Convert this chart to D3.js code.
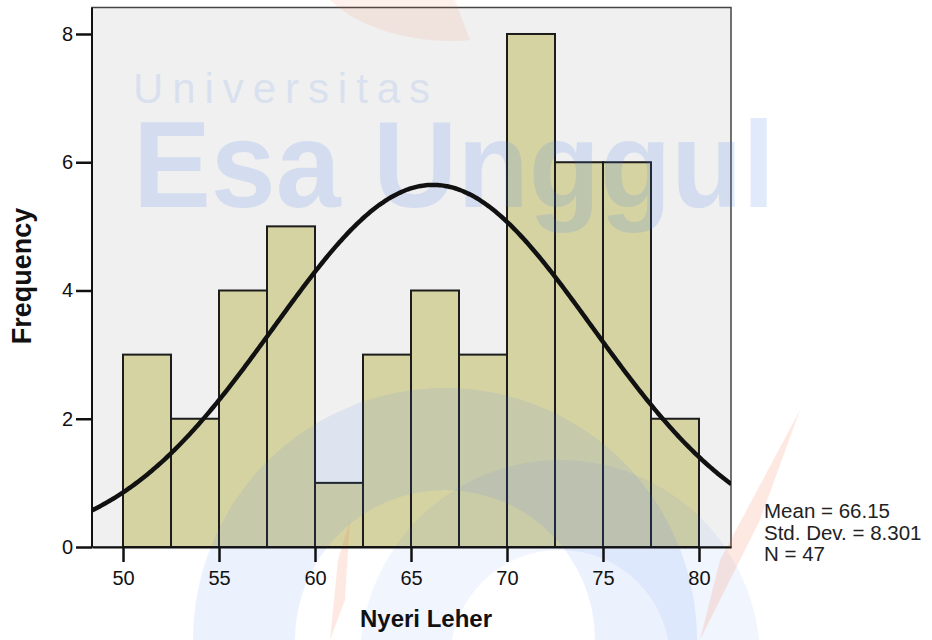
<!DOCTYPE html>
<html>
<head>
<meta charset="utf-8">
<script src="https://cdn.jsdelivr.net/npm/d3@7"></script>
<style>
  body { margin: 0; background: #fff; }
  svg { display: block; font-family: 'Liberation Sans', Arial, sans-serif; }
</style>
</head>
<body>
<div id="chart"></div>
<script>
// histogram data (Nyeri Leher)
var binStarts = [50, 52.5, 55, 57.5, 60, 62.5, 65, 67.5, 70, 72.5, 75, 77.5];
var binCounts = [3, 2, 4, 5, 1, 3, 4, 3, 8, 6, 6, 2];
var binWidth = 2.5;
var xTicks = [50, 55, 60, 65, 70, 75, 80];
var yTicks = [0, 2, 4, 6, 8];
var statLabels = ['Mean = 66.15', 'Std. Dev. = 8.301', 'N = 47'];
var statMean = 66.15;
var statSd = 8.301;
var statN = 47;

var width = 932,
    height = 640;

var plot = {
  left: 92,
  right: 731,
  top: 7.5,
  bottom: 547
};

var svg = d3.select('#chart')
    .append('svg')
        .attr('width', width)
        .attr('height', height);

var x = d3.scaleLinear()
    .domain([48.385, 81.667])
    .range([plot.left, plot.right]);
var y = d3.scaleLinear()
    .domain([0, 8.413])
    .range([plot.bottom, plot.top]);

// plot background
svg.append('rect')
    .attr('x', plot.left)
    .attr('y', plot.top)
    .attr('width', plot.right - plot.left)
    .attr('height', plot.bottom - plot.top)
    .attr('fill', '#f0f0f0')
    .attr('stroke', '#444')
    .attr('stroke-width', 1.5);

svg.append('clipPath')
    .attr('id', 'plotClip')
  .append('rect')
    .attr('x', plot.left)
    .attr('y', plot.top)
    .attr('width', plot.right - plot.left)
    .attr('height', plot.bottom - plot.top);

// bars
svg.append('g')
    .attr('class', 'bars')
  .selectAll('rect')
  .data(binStarts)
  .enter()
  .append('rect')
    .attr('x', function(d) { return x(d); })
    .attr('y', function(d, i) { return y(binCounts[i]); })
    .attr('width', function(d) { return x(d + binWidth) - x(d); })
    .attr('height', function(d, i) { return y(0) - y(binCounts[i]); })
    .attr('fill', '#d6d3a3')
    .attr('stroke', '#1c1c1c')
    .attr('stroke-width', 2);

// faint watermark over the bars
var wm = svg.append('g')
    .attr('class', 'watermark')
    .style('pointer-events', 'none');

var ring = d3.arc()
    .startAngle(-Math.PI / 2)
    .endAngle(Math.PI / 2);

wm.append('path')
    .attr('transform', 'translate(445,640)')
    .attr('d', ring({ innerRadius: 150, outerRadius: 252 }))
    .attr('fill', 'rgb(60,120,235)')
    .attr('opacity', 0.1);
wm.append('path')
    .attr('transform', 'translate(560,660)')
    .attr('d', ring({ innerRadius: 110, outerRadius: 200 }))
    .attr('fill', 'rgb(60,120,235)')
    .attr('opacity', 0.07);
wm.append('path')
    .attr('d', 'M700,640 L720,560 L800,410 L760,520 Z')
    .attr('fill', 'rgb(250,110,60)')
    .attr('opacity', 0.15);
wm.append('path')
    .attr('d', 'M330,640 L338,560 L350,520 L345,600 Z')
    .attr('fill', 'rgb(250,110,60)')
    .attr('opacity', 0.15);
wm.append('path')
    .attr('d', 'M330,0 C360,30 420,45 470,40 L455,0 Z')
    .attr('fill', 'rgb(250,110,60)')
    .attr('opacity', 0.1);

wm.append('text')
    .attr('x', 133)
    .attr('y', 103)
    .attr('textLength', 297)
    .attr('lengthAdjust', 'spacing')
    .style('font-size', '42px')
    .style('font-weight', '300')
    .attr('fill', 'rgb(60,120,235)')
    .attr('opacity', 0.12)
    .text('Universitas');
wm.append('text')
    .attr('x', 133)
    .attr('y', 207)
    .attr('textLength', 642)
    .attr('lengthAdjust', 'spacingAndGlyphs')
    .style('font-size', '122px')
    .style('font-weight', 'bold')
    .attr('fill', 'rgb(60,120,235)')
    .attr('opacity', 0.15)
    .text('Esa Unggul');

// normal curve from mean / sd
var curveXs = d3.range(x.domain()[0], x.domain()[1] + 0.1, 0.1);
var curveScale = statN * binWidth / (statSd * Math.sqrt(2 * Math.PI));
var line = d3.line()
    .x(function(d) { return x(d); })
    .y(function(d) {
      var z = (d - statMean) / statSd;
      return y(curveScale * Math.exp(-0.5 * z * z));
    })
    .curve(d3.curveBasis);

svg.append('path')
    .datum(curveXs)
    .attr('clip-path', 'url(#plotClip)')
    .attr('d', line)
    .attr('fill', 'none')
    .attr('stroke', '#111')
    .attr('stroke-width', 4.5);

// axes
var xAxis = d3.axisBottom(x)
    .tickValues(xTicks)
    .tickSize(15)
    .tickPadding(9)
    .tickSizeOuter(0);
var yAxis = d3.axisLeft(y)
    .tickValues(yTicks)
    .tickSize(16)
    .tickPadding(3)
    .tickSizeOuter(0);

var gx = svg.append('g')
    .attr('transform', 'translate(0,' + plot.bottom + ')')
    .call(xAxis);
var gy = svg.append('g')
    .attr('transform', 'translate(' + plot.left + ',0)')
    .call(yAxis);

[gx, gy].forEach(function(g) {
  g.select('.domain')
      .attr('stroke', '#111')
      .attr('stroke-width', 2);
  g.selectAll('.tick line')
      .attr('stroke', '#111')
      .attr('stroke-width', 2.5);
  g.selectAll('.tick text')
      .attr('fill', '#111')
      .style('font-size', '20px')
      .style('font-family', "'Liberation Sans', Arial, sans-serif");
});
// y domain runs to top of frame
gy.select('.domain')
    .attr('d', 'M0,' + plot.bottom + 'V' + plot.top);

// axis titles
svg.append('text')
    .attr('x', 426)
    .attr('y', 627)
    .attr('text-anchor', 'middle')
    .style('font-size', '24px')
    .style('font-weight', 'bold')
    .attr('fill', '#111')
    .text('Nyeri Leher');

svg.append('text')
    .attr('transform', 'translate(31,276) rotate(-90)')
    .attr('text-anchor', 'middle')
    .style('font-size', '27px')
    .style('font-weight', 'bold')
    .attr('fill', '#111')
    .text('Frequency');

// stats box
svg.append('g')
    .attr('class', 'stats')
  .selectAll('text')
  .data(statLabels)
  .enter()
  .append('text')
    .attr('x', 764)
    .attr('y', function(d, i) { return 518 + i * 21.5; })
    .style('font-size', '20.5px')
    .attr('fill', '#222')
    .text(function(d) { return d; });
</script>
</body>
</html>
